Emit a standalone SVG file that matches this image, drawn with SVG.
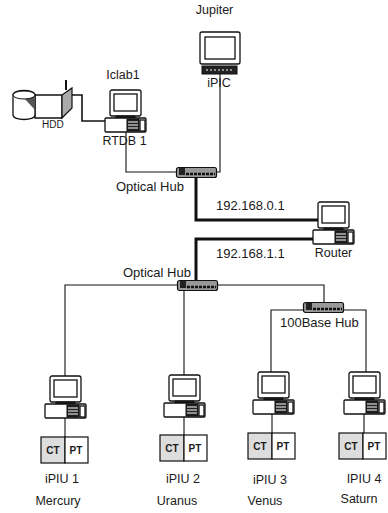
<svg xmlns="http://www.w3.org/2000/svg" width="388" height="513" viewBox="0 0 388 513">
<style>
text{font-family:"Liberation Sans",Arial,sans-serif;font-size:12.500px;fill:#1a1a1a}
.m{text-anchor:middle}
.s{font-size:10px;font-weight:bold}
.o{fill:#fff;stroke:#111;stroke-width:1.3}
.k{fill:#222;stroke:#111}
.w{fill:none;stroke:#111;stroke-width:1.1}
.t{fill:none;stroke:#111;stroke-width:3}
.h{fill:#999;stroke:#111;stroke-width:1.2}
</style>
<defs>
<g id="pc">
<rect class="o" x="5" y="0" width="31" height="26" rx="2"/>
<rect class="o" x="9" y="4" width="23" height="17"/>
<path class="k" d="M11 26h19v2H11z"/>
<rect class="o" x="0" y="28" width="41" height="14" rx="1"/>
<rect class="k" x="22" y="29" width="12" height="12"/>
<path d="M23 32h10M23 35h10M23 38h10" stroke="#fff" stroke-width="1"/>
<rect class="o" x="35" y="30" width="5" height="11"/>
</g>
<g id="hub">
<rect class="h" x="0.5" y="0.500" width="40" height="10" rx="2"/>
<rect x="3" y="1" width="6" height="7" fill="#222"/>
<path d="M10 7h29" stroke="#111" stroke-width="2.500" stroke-dasharray="3 1"/>
</g>
<g id="box">
<rect x="0" y="0" width="24" height="26" fill="#ddd" stroke="#111" stroke-width="1.2"/>
<rect x="24" y="0" width="23" height="26" fill="#fff" stroke="#111" stroke-width="1.2"/>
<text class="s" x="12" y="17" text-anchor="middle">CT</text>
<text class="s" x="35" y="17" text-anchor="middle">PT</text>
</g>
</defs>

<g id="connectors">
<path class="w" style="stroke-width:1.6" d="M68 95H82V121H105"/>
<path class="w" d="M126 130V172H176"/>
<path class="w" d="M220 74V172H217"/>
<path class="t" d="M196 178V220H319"/>
<path class="t" d="M313 239H196V280"/>
<path class="w" d="M177 285H65V376"/>
<path class="w" d="M184 291V375"/>
<path class="w" d="M218 285H324V302"/>
<path class="w" d="M303 310H271V372"/>
<path class="w" d="M343 310H366V372"/>
<path class="w" d="M65 417V437"/>
<path class="w" d="M184 415V435"/>
<path class="w" d="M272 414V433"/>
<path class="w" d="M364 414V433"/>
</g>

<g id="hdd">
<path d="M66 80V90" stroke="#111" stroke-width="2"/>
<path class="o" d="M35 95H62V118H35Z"/>
<path d="M62 95L72 88V108L62 118Z" fill="#aaa" stroke="#111" stroke-width="1.2"/>
<path class="o" d="M13 95C13 89 35 89 35 95V115C35 121 13 121 13 115Z"/>
<path d="M24 98L35 94V110Z" fill="#555"/>
<ellipse cx="24" cy="95" rx="11" ry="4" fill="#fff" stroke="#111"/>
<text x="42" y="128" style="font-size:10px">HDD</text>
</g>
<g id="rtdb1">
<use href="#pc" x="105" y="90"/>
<text class="m" x="123" y="79">Iclab1</text>
<text class="m" x="124.500" y="145">RTDB 1</text>
</g>
<g id="ipic">
<rect class="o" x="200" y="32" width="40" height="32" rx="2"/>
<rect class="o" x="205" y="37" width="30" height="22"/>
<rect class="k" x="202" y="66" width="35" height="8"/>
<path d="M206 70h28" stroke="#fff" stroke-dasharray="2 2"/>
<text class="m" x="214.500" y="14">Jupiter</text>
<text class="m" x="219" y="87">iPIC</text>
</g>
<g id="hub-top">
<use href="#hub" x="176" y="167"/>
<text x="116" y="191" style="font-size:13px">Optical Hub</text>
</g>
<g id="router">
<use href="#pc" x="313" y="202"/>
<text class="m" x="333.500" y="257">Router</text>
</g>
<text x="216" y="210" style="font-size:13px">192.168.0.1</text>
<text x="216" y="258" style="font-size:13px">192.168.1.1</text>
<g id="hub-mid">
<use href="#hub" x="177" y="280"/>
<text x="123" y="277" style="font-size:13px">Optical Hub</text>
</g>
<g id="hub-100">
<use href="#hub" x="303" y="302"/>
<text x="280" y="327" style="font-size:13px">100Base Hub</text>
</g>
<g id="ipiu1">
<use href="#pc" x="45" y="376"/>
<use href="#box" x="41" y="437"/>
<text class="m" x="62" y="483">iPIU 1</text>
<text class="m" x="58" y="505">Mercury</text>
</g>
<g id="ipiu2">
<use href="#pc" x="164" y="375"/>
<use href="#box" x="160" y="435"/>
<text class="m" x="183" y="483">iPIU 2</text>
<text class="m" x="177" y="505">Uranus</text>
</g>
<g id="ipiu3">
<use href="#pc" x="253" y="372"/>
<use href="#box" x="248" y="433"/>
<text class="m" x="270" y="484">iPIU 3</text>
<text class="m" x="265" y="505">Venus</text>
</g>
<g id="ipiu4">
<use href="#pc" x="344" y="372"/>
<use href="#box" x="339" y="433"/>
<text class="m" x="364" y="483">IPIU 4</text>
<text class="m" x="359" y="503">Saturn</text>
</g>
</svg>
